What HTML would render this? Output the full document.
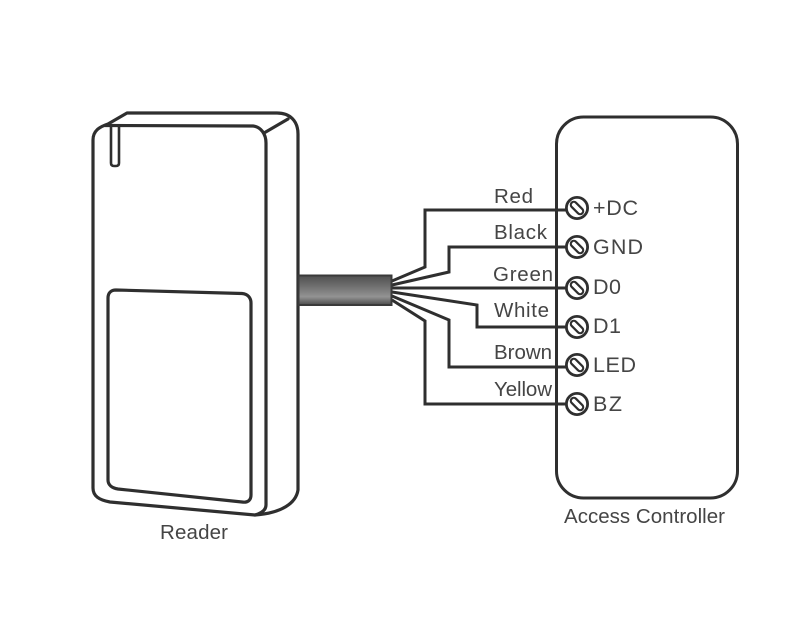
<!DOCTYPE html>
<html>
<head>
<meta charset="utf-8">
<style>
html,body{margin:0;padding:0;background:#fff;}
svg{display:block;}
text{font-family:"Liberation Sans",sans-serif;fill:#454545;font-size:20.5px;}
text.t{font-size:21.5px;}
</style>
</head>
<body>
<svg width="800" height="626" viewBox="0 0 800 626" xmlns="http://www.w3.org/2000/svg">
<defs>
<linearGradient id="c" x1="0" y1="0" x2="0" y2="1">
<stop offset="0" stop-color="#505050"/>
<stop offset="0.35" stop-color="#6e6e6e"/>
<stop offset="0.72" stop-color="#939393"/>
<stop offset="1" stop-color="#4c4c4c"/>
</linearGradient>
<g id="t">
<circle r="10.6" fill="#fff" stroke="#2f2f2f" stroke-width="2.8"/>
<rect x="-7.500" y="-3" width="15" height="6" rx="3" fill="#fff" stroke="#2f2f2f" stroke-width="2.2" transform="rotate(45)"/>
</g>
</defs>

<!-- Reader -->
<g fill="none" stroke="#2f2f2f" stroke-width="3.2" stroke-linejoin="round" stroke-linecap="round">
<path d="M93 140 C93 131 99 127 108 124 L127 113 L277 113 C290 113 298 121 298 134 L298 490 C296 503 282 513 255 515 L110 502 C99 500 93 496 93 488 Z" fill="#fff"/>
<path d="M105 125.500 L253 126 C261 127 266 134 266 143 L266 505 C266 510 262 513 255 515"/>
<path d="M264 133 L288 119"/>
<path d="M111 126 L111 163 Q111 166 114 166 L116 166 Q119 166 119 163 L119 126" stroke-width="2.6"/>
<path d="M108 298 C108 293 111 290 116 290 L242 293.500 C248 294 251 298 251 303 L251 495 C251 500 248 503 242 502 L118 489 C112 488 108 485 108 480 Z"/>
</g>

<!-- Wires -->
<g fill="none" stroke="#2f2f2f" stroke-width="3" stroke-linejoin="miter">
<path d="M392 281 L425 267 L425 210 L566 210"/>
<path d="M392 285 L449 272 L449 247 L566 247"/>
<path d="M392 288 L566 288"/>
<path d="M392 292 L477 305 L477 327 L566 327"/>
<path d="M392 296 L449 320 L449 367 L566 367"/>
<path d="M392 300 L425 321 L425 404 L566 404"/>
</g>

<!-- Cable -->
<rect x="298.500" y="275.500" width="93" height="29.500" fill="url(#c)" stroke="#3a3a3a" stroke-width="2"/>

<!-- Controller -->
<rect x="556.500" y="117" width="181" height="381" rx="27" ry="27" fill="none" stroke="#2f2f2f" stroke-width="3"/>

<!-- Terminals -->
<use href="#t" x="577" y="208"/>
<use href="#t" x="577" y="247"/>
<use href="#t" x="577" y="288"/>
<use href="#t" x="577" y="327"/>
<use href="#t" x="577" y="365"/>
<use href="#t" x="577" y="404"/>

<!-- Wire labels -->
<text x="494" y="203" textLength="39" lengthAdjust="spacing">Red</text>
<text x="494" y="239" textLength="53" lengthAdjust="spacing">Black</text>
<text x="493" y="281" textLength="60" lengthAdjust="spacing">Green</text>
<text x="494" y="317" textLength="55" lengthAdjust="spacing">White</text>
<text x="494" y="359" textLength="58" lengthAdjust="spacing">Brown</text>
<text x="494" y="396" textLength="58" lengthAdjust="spacing">Yellow</text>

<!-- Terminal labels -->
<text class="t" x="593" y="215" textLength="45" lengthAdjust="spacing">+DC</text>
<text class="t" x="593" y="254" textLength="50" lengthAdjust="spacing">GND</text>
<text class="t" x="593" y="294" textLength="28" lengthAdjust="spacing">D0</text>
<text class="t" x="593" y="333" textLength="28" lengthAdjust="spacing">D1</text>
<text class="t" x="593" y="372" textLength="43" lengthAdjust="spacing">LED</text>
<text class="t" x="593" y="411" textLength="29" lengthAdjust="spacing">BZ</text>

<text x="160" y="539" textLength="68" lengthAdjust="spacing">Reader</text>
<text x="564" y="523" textLength="161" lengthAdjust="spacing">Access Controller</text>
</svg>
</body>
</html>
